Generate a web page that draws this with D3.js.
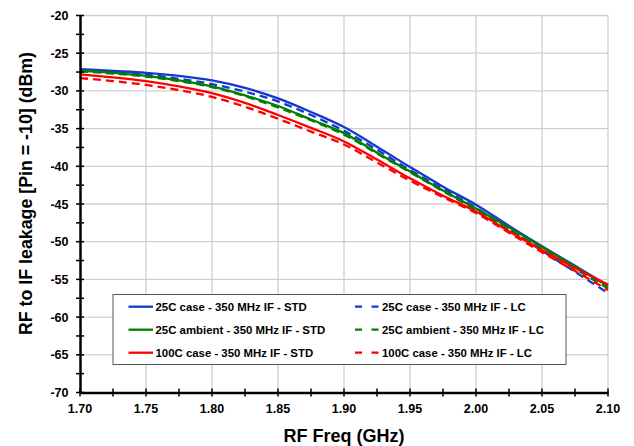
<!DOCTYPE html>
<html><head><meta charset="utf-8">
<script src="https://cdn.jsdelivr.net/npm/d3@7"></script>
<style>body{margin:0;background:#fff;}svg{display:block;font-family:"Liberation Sans",Arial,sans-serif;}</style>
</head><body><svg id="c" width="634" height="446"></svg>
<script>
const freqs = [1.70,1.725,1.75,1.775,1.80,1.825,1.85,1.875,1.90,1.925,1.95,1.975,2.00,2.025,2.05,2.075,2.10];
const case25Std   = [-27.1,-27.35,-27.6,-28.0,-28.6,-29.6,-31.0,-32.8,-34.8,-37.4,-40.1,-42.7,-45.1,-47.9,-50.6,-53.2,-55.8];
const case25Lc    = [-27.2,-27.5,-27.85,-28.4,-29.1,-30.1,-31.4,-33.2,-35.3,-37.8,-40.5,-43.0,-45.5,-48.3,-51.2,-54.0,-56.8];
const amb25Std    = [-27.3,-27.6,-28.0,-28.6,-29.4,-30.6,-32.0,-33.8,-35.6,-38.2,-40.7,-43.2,-45.6,-48.1,-50.7,-53.3,-55.9];
const amb25Lc     = [-27.4,-27.7,-28.1,-28.7,-29.5,-30.7,-32.2,-33.9,-35.8,-38.3,-40.8,-43.3,-45.8,-48.4,-51.0,-53.6,-56.2];
const case100Std  = [-27.8,-28.2,-28.7,-29.4,-30.3,-31.6,-33.2,-34.9,-36.7,-39.1,-41.6,-43.9,-46.0,-48.6,-51.1,-53.5,-55.7];
const case100Lc   = [-28.3,-28.7,-29.2,-29.9,-30.8,-32.1,-33.7,-35.4,-37.1,-39.5,-41.9,-44.1,-46.2,-48.8,-51.4,-53.9,-56.4];
const xTicks = [1.70,1.75,1.80,1.85,1.90,1.95,2.00,2.05,2.10];
const yTicks = [-70,-65,-60,-55,-50,-45,-40,-35,-30,-25,-20];
const seriesNames = ["25C case - 350 MHz IF - STD","25C case - 350 MHz IF - LC","25C ambient - 350 MHz IF - STD","25C ambient - 350 MHz IF - LC","100C case - 350 MHz IF - STD","100C case - 350 MHz IF - LC"];

const series = [
  {name:seriesNames[0], vals:case25Std, color:"#1438d0", dash:null},
  {name:seriesNames[1], vals:case25Lc, color:"#1438d0", dash:"8,5"},
  {name:seriesNames[2], vals:amb25Std, color:"#008000", dash:null},
  {name:seriesNames[3], vals:amb25Lc, color:"#008000", dash:"8,5"},
  {name:seriesNames[4], vals:case100Std, color:"#ff0000", dash:null},
  {name:seriesNames[5], vals:case100Lc, color:"#ff0000", dash:"8,5"}
];

const svg = d3.select("#c");
const L=80,R=608,T=15.5,B=392.5;
const x = d3.scaleLinear().domain([1.70,2.10]).range([L,R]);
const y = d3.scaleLinear().domain([-70,-20]).range([B,T]);

// grid
const g = svg.append("g");
g.selectAll(".gx").data(xTicks.slice(1)).enter().append("line")
  .attr("x1",d=>x(d)).attr("x2",d=>x(d)).attr("y1",T).attr("y2",B)
  .attr("stroke","#cfcfcf").attr("stroke-width",1.3);
g.selectAll(".gy").data(yTicks.slice(1)).enter().append("line")
  .attr("x1",L).attr("x2",R).attr("y1",d=>y(d)).attr("y2",d=>y(d))
  .attr("stroke","#cfcfcf").attr("stroke-width",1.3);

// lines
const line = d3.line().x((d,i)=>x(freqs[i])).y(d=>y(d)).curve(d3.curveMonotoneX);
const order=[1,3,5,0,2,4];
order.forEach(k=>{
  const s=series[k];
  svg.append("path").attr("d",line(s.vals)).attr("fill","none")
    .attr("stroke",s.color).attr("stroke-width",2.3)
    .attr("stroke-dasharray",s.dash);
});

// axes
const xMinor = d3.range(0,17).map(i=>1.70+i*0.025);
const yMinor = d3.range(0,21).map(i=>-70+i*2.5);
const ax = svg.append("g").attr("transform",`translate(0,${B})`);
ax.call(d3.axisBottom(x).tickValues(xMinor).tickSize(0).tickFormat(""));
ax.select(".domain").attr("stroke","#000").attr("stroke-width",2.5);
ax.selectAll(".tm").data(xMinor).enter().append("line").attr("class","tm")
  .attr("x1",d=>x(d)).attr("x2",d=>x(d)).attr("y1",-4).attr("y2",4).attr("stroke","#000").attr("stroke-width",1.5);
ax.selectAll(".tl").data(xTicks).enter().append("text").attr("class","tl")
  .attr("x",d=>x(d)).attr("y",20.3).attr("text-anchor","middle").attr("fill","#000")
  .attr("font-family","'Liberation Sans',Arial,sans-serif")
  .attr("font-size","12.5px").attr("font-weight","bold").text(d=>d.toFixed(2));

const ay = svg.append("g").attr("transform",`translate(${L},0)`);
ay.call(d3.axisLeft(y).tickValues(yMinor).tickSize(0).tickFormat(""));
ay.select(".domain").attr("stroke","#000").attr("stroke-width",2.5);
ay.selectAll(".tm").data(yMinor).enter().append("line").attr("class","tm")
  .attr("y1",d=>y(d)).attr("y2",d=>y(d)).attr("x1",-4).attr("x2",4).attr("stroke","#000").attr("stroke-width",1.5);
ay.selectAll(".tl").data(yTicks).enter().append("text").attr("class","tl")
  .attr("x",-11.5).attr("y",d=>y(d)).attr("dy","0.36em").attr("text-anchor","end").attr("fill","#000")
  .attr("font-family","'Liberation Sans',Arial,sans-serif")
  .attr("font-size","12.5px").attr("font-weight","bold").text(d=>d);

// titles
svg.append("text").attr("x",(L+R)/2).attr("y",441.5).attr("text-anchor","middle")
  .attr("font-size","18px").attr("font-weight","bold").text("RF Freq (GHz)");
svg.append("text").attr("transform",`translate(32,193.5) rotate(-90)`).attr("text-anchor","middle")
  .attr("font-size","17.8px").attr("font-weight","bold").text("RF to IF leakage [Pin = -10] (dBm)");

// legend
const lg = svg.append("g");
lg.append("rect").attr("x",113).attr("y",294.5).attr("width",453).attr("height",70)
  .attr("fill","#fff").attr("stroke","#555").attr("stroke-width",1);
series.forEach((s,i)=>{
  const col=i%2,row=Math.floor(i/2);
  const lx = col===0?128.5:355, ly=306.7+row*23;
  lg.append("line").attr("x1",lx).attr("x2",lx+24.5).attr("y1",ly).attr("y2",ly)
    .attr("stroke",s.color).attr("stroke-width",2.3).attr("stroke-dasharray",s.dash?"7,9.5":null);
  lg.append("text").attr("x",lx+27).attr("y",ly).attr("dy","0.36em")
    .attr("font-size","11.4px").attr("font-weight","bold").text(s.name);
});
</script></body></html>
